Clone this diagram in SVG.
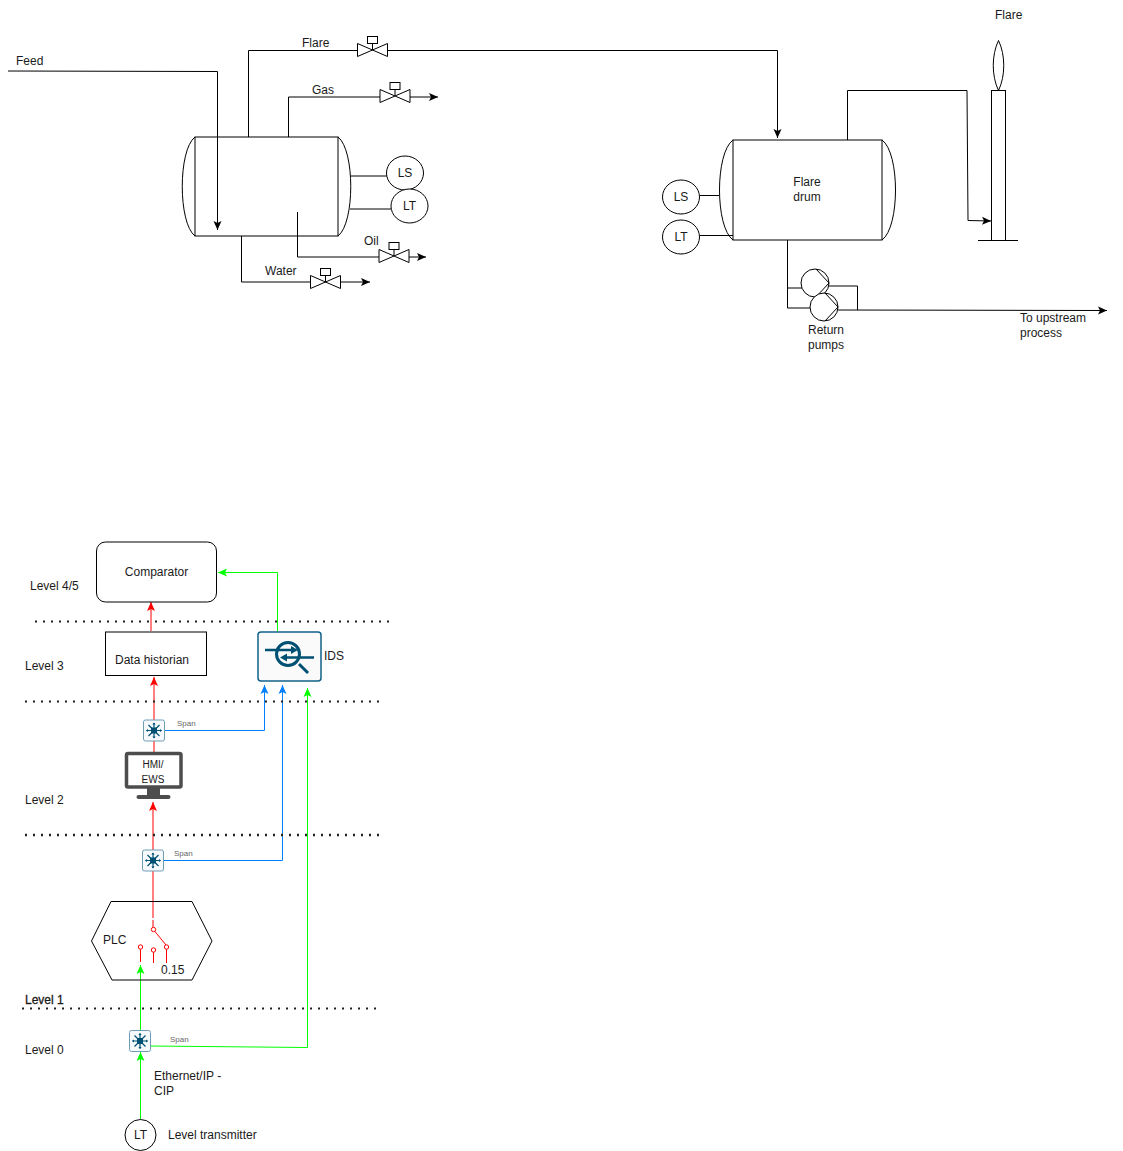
<svg xmlns="http://www.w3.org/2000/svg" xmlns:xlink="http://www.w3.org/1999/xlink" width="1123" height="1151" viewBox="0 0 1123 1151">
<style>
text{font-family:"Liberation Sans",Arial,sans-serif;font-size:12px;fill:#1a1a1a}
.m{text-anchor:middle}
.s{fill:#fff;stroke:#000;stroke-width:1}
.n{fill:none;stroke:#000;stroke-width:1}
.l{fill:none;stroke:#000;stroke-width:1}
.k{marker-end:url(#ak)}
.r{fill:none;stroke:#ff0000;stroke-width:1}
.ra{marker-end:url(#ar)}
.g{fill:none;stroke:#00ff00;stroke-width:1}
.ga{marker-end:url(#ag)}
.b{fill:none;stroke:#007fff;stroke-width:1}
.ba{marker-end:url(#ab)}
.d{fill:none;stroke:#222;stroke-width:2;stroke-dasharray:2 6}
.span{font-size:8px;fill:#666}
.pt{fill:#fff;stroke:#ff0000;stroke-width:1}
.i{fill:none;stroke:#005073;stroke-width:3}
</style>
<defs>
<marker id="ak" markerUnits="userSpaceOnUse" markerWidth="10" markerHeight="9" viewBox="0 0 10 9" refX="9" refY="4.5" orient="auto"><path d="M0 .5L9 4.5L0 8.5L2 4.5Z" fill="#000"/></marker>
<marker id="ar" markerUnits="userSpaceOnUse" markerWidth="10" markerHeight="9" viewBox="0 0 10 9" refX="9" refY="4.5" orient="auto"><path d="M0 .5L9 4.5L0 8.5L2 4.5Z" fill="#ff0000"/></marker>
<marker id="ag" markerUnits="userSpaceOnUse" markerWidth="10" markerHeight="9" viewBox="0 0 10 9" refX="9" refY="4.5" orient="auto"><path d="M0 .5L9 4.5L0 8.5L2 4.5Z" fill="#00ff00"/></marker>
<marker id="ab" markerUnits="userSpaceOnUse" markerWidth="10" markerHeight="9" viewBox="0 0 10 9" refX="9" refY="4.5" orient="auto"><path d="M0 .5L9 4.5L0 8.5L2 4.5Z" fill="#007fff"/></marker>
<g id="valve"><path class="s" d="M-15-6.500L15 6.500V-6.500L-15 6.500Z"/><path class="n" d="M0 0V-7"/><rect class="s" x="-5" y="-13.500" width="10" height="7"/></g>
<g id="sw"><rect x="-10.500" y="-10.500" width="21" height="21" rx="2" fill="#f7fafc" stroke="#6f9db5" stroke-width="1"/><rect x="-3" y="-3" width="6" height="6" fill="#005073"/><path d="M-7.500 0H7.500M0-7.500V7.500M-5.500-5.500L5.500 5.500M-5.500 5.500L5.500-5.500" stroke="#005073" stroke-width="1.200" fill="none"/><path d="M-8 0L-6 -1.600V1.600ZM8 0L6 -1.600V1.600ZM0-8L-1.600-6H1.600ZM0 8L-1.600 6H1.600Z" fill="#005073"/></g>
<g id="pump"><circle class="s" r="14"/><path class="n" d="M1-14L14 0L1 14"/></g>
</defs>

<g id="connectors">
<path class="l k" d="M8 71L217.500 71.500V230"/>
<path class="l" d="M248.500 137V50.500H358M388 50.500H777.500"/>
<path class="l k" d="M777.500 50.500V138"/>
<path class="l" d="M288.500 137V97H381"/>
<path class="l k" d="M410 97H438"/>
<path class="l" d="M297.500 212V257H380"/>
<path class="l k" d="M409 257H426"/>
<path class="l" d="M241.500 236V282H311"/>
<path class="l k" d="M340 282H370"/>
<path class="l" d="M351 176H387M350 209H391"/>
<path class="l" d="M700 195.500H719M700 235.500H733"/>
<path class="l" d="M787.500 240V308H811M787.500 288H802M828 286H857.500V310"/>
<path class="l k" d="M838 310L1107 310.500"/>
<path class="l k" d="M847.500 140V90.500H967L968 220.500L991 221"/>
<path class="r ra" d="M151 631V602"/>
<path class="r ra" d="M154 720V677"/>
<path class="r" d="M154 741V752"/>
<path class="r ra" d="M153 850V802"/>
<path class="r" d="M153 871V918"/>
<path class="b ba" d="M164 730.500H264.500V685"/>
<path class="b ba" d="M163 860.500H282.500V685"/>
<path class="g ga" d="M150 1046L307.500 1047.500V688"/>
<path class="g ga" d="M140.500 1031V965"/>
<path class="g ga" d="M140.500 1120V1052"/>
<path class="g ga" d="M277.500 632V572.500H218"/>
</g>

<g id="separator-vessel"><path class="s" d="M195 137C178 150 178 223 195 236M338 137C355 150 355 223 338 236"/><rect class="n" x="195" y="137" width="143" height="99"/></g>
<g id="valve-flare"><use href="#valve" xlink:href="#valve" x="372.500" y="50"/></g>
<g id="valve-gas"><use href="#valve" xlink:href="#valve" x="395" y="96"/></g>
<g id="valve-oil"><use href="#valve" xlink:href="#valve" x="394" y="256"/></g>
<g id="valve-water"><use href="#valve" xlink:href="#valve" x="325.500" y="282"/></g>
<g id="ls-left"><ellipse class="s" cx="405" cy="173" rx="18.500" ry="17"/><text class="m" x="405" y="177">LS</text></g>
<g id="lt-left"><ellipse class="s" cx="409.500" cy="206" rx="18.500" ry="17"/><text class="m" x="409.500" y="210">LT</text></g>

<g id="flare-drum"><path class="n" d="M733 140C715 153 715 227 733 240M882 140C900 153 900 227 882 240"/><rect class="n" x="733" y="140" width="149" height="100"/><text class="m" x="807" y="186">Flare</text><text class="m" x="807" y="201">drum</text></g>
<g id="ls-right"><ellipse class="s" cx="681" cy="197" rx="18.500" ry="17"/><text class="m" x="681" y="201">LS</text></g>
<g id="lt-right"><ellipse class="s" cx="681" cy="237" rx="18.500" ry="17"/><text class="m" x="681" y="241">LT</text></g>
<g id="pump-1"><use href="#pump" xlink:href="#pump" x="815" y="283"/></g>
<g id="pump-2"><use href="#pump" xlink:href="#pump" x="824" y="307"/></g>
<g id="flare-stack"><rect class="s" x="991.500" y="90.500" width="14" height="150"/><path class="n" d="M978 240.500H1018"/><path class="s" d="M998.500 40.500C991.500 55 991.500 76 998.500 90.500C1005.500 76 1005.500 55 998.500 40.500Z"/></g>

<g id="process-labels">
<text x="16" y="65">Feed</text>
<text x="302" y="47">Flare</text>
<text x="312" y="94">Gas</text>
<text x="364" y="245">Oil</text>
<text x="265" y="275">Water</text>
<text x="995" y="19">Flare</text>
<text class="m" x="826" y="334">Return</text>
<text class="m" x="826" y="349">pumps</text>
<text x="1020" y="322">To upstream</text>
<text x="1020" y="337">process</text>
</g>

<g id="levels">
<path class="d" d="M35 621.500H390"/>
<path class="d" d="M25 701.500H380"/>
<path class="d" d="M25 835H380" style="stroke-width:2.500"/>
<path class="d" d="M22 1008.500H376"/>
<text x="30" y="590">Level 4/5</text>
<text x="25" y="670">Level 3</text>
<text x="25" y="804">Level 2</text>
<text x="25" y="1004" style="stroke:#1a1a1a;stroke-width:.3px">Level 1</text>
<text x="25" y="1054">Level 0</text>
</g>

<g id="comparator"><rect class="s" x="96.500" y="542" width="120" height="60" rx="9"/><text class="m" x="156.500" y="576">Comparator</text></g>
<g id="data-historian"><rect class="s" x="105.500" y="632" width="101" height="43.500"/><text class="m" x="152" y="664">Data historian</text></g>
<g id="ids"><rect x="258" y="632" width="63" height="49" rx="3" fill="#fafafa" stroke="#10618a" stroke-width="1.500"/>
<circle class="i" cx="288" cy="654" r="11.500"/><path class="i" d="M299 664L308 673"/><path d="M265 650H292M285 657.500H314" fill="none" stroke="#005073" stroke-width="2.500"/>
<path d="M298 650L291 646V654ZM280 657.500L287 653.500V661.500Z" fill="#005073"/><text x="324" y="660">IDS</text></g>
<g id="switch-l2"><use href="#sw" xlink:href="#sw" x="154" y="730.500"/><text class="span" x="177" y="726">Span</text></g>
<g id="hmi-ews"><rect x="126.500" y="753.500" width="54.500" height="33.500" rx="1.500" fill="#fff" stroke="#4d4d4d" stroke-width="3.500"/><path d="M147 788H160V795H147Z" fill="#4d4d4d"/><rect x="136.500" y="795" width="34" height="4" rx="2" fill="#4d4d4d"/><text class="m" x="153" y="768" style="font-size:10px">HMI/</text><text class="m" x="153" y="783" style="font-size:10px">EWS</text></g>
<g id="switch-l1"><use href="#sw" xlink:href="#sw" x="153" y="860.500"/><text class="span" x="174" y="856">Span</text></g>
<g id="plc"><path class="n" d="M111 901.500H192L212 941L192 980H112L91.500 941Z"/><text x="103" y="944">PLC</text><text x="161" y="974">0.15</text>
<path class="r" d="M153 920V927.500M154.500 931L166 945M166.500 949V963M153.500 952V963M140.500 949V962"/>
<circle class="pt" cx="153.500" cy="929.500" r="2.200"/><circle class="pt" cx="166.500" cy="947" r="2.200"/><circle class="pt" cx="153.500" cy="950" r="2.200"/><circle class="pt" cx="140.500" cy="947" r="2.200"/></g>
<g id="switch-l0"><use href="#sw" xlink:href="#sw" x="140" y="1041"/><text class="span" x="170" y="1042">Span</text></g>
<g id="level-transmitter"><circle class="s" cx="140.500" cy="1135" r="15.500"/><text class="m" x="140.500" y="1139">LT</text><text x="168" y="1139">Level transmitter</text></g>
<g id="protocol-label"><text x="154" y="1080">Ethernet/IP -</text><text x="154" y="1095">CIP</text></g>
</svg>
